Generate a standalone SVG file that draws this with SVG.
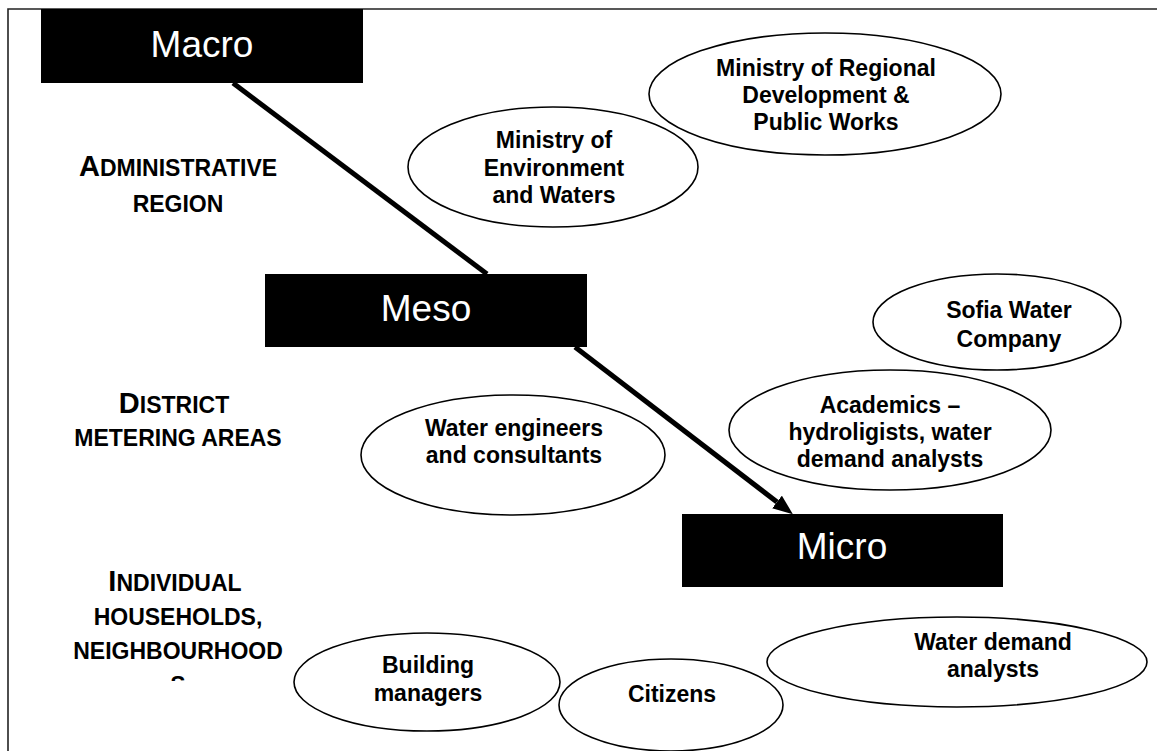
<svg xmlns="http://www.w3.org/2000/svg" width="1157" height="751" viewBox="0 0 1157 751">
<defs>
<style>
.frame{fill:none;stroke:#222;stroke-width:1.6}
.box{fill:#000}
.boxt{font-family:"Liberation Sans",Arial,sans-serif;font-size:37px;fill:#fff;text-anchor:middle}
.ell{fill:#fff;stroke:#000;stroke-width:1.6}
.et{font-family:"Liberation Sans",Arial,sans-serif;font-weight:bold;font-size:23px;fill:#000;text-anchor:middle}
.lab{font-family:"Liberation Sans",Arial,sans-serif;font-weight:bold;font-size:23px;fill:#000;text-anchor:middle}
.big{font-size:29px}
.conn{stroke:#000;stroke-width:5;fill:none}
</style>
<marker id="arrow" markerUnits="userSpaceOnUse" markerWidth="22" markerHeight="18" refX="0" refY="8" orient="auto">
<path d="M0,0 L20,8 L0,16 z" fill="#000"/>
</marker>
<clipPath id="labclip"><rect x="0" y="560" width="320" height="121"/></clipPath>
</defs>
<rect width="1157" height="751" fill="#fff"/>
<path class="frame" d="M8,751 L8,9 L1157,9"/>

<g id="connectors">
<line class="conn" x1="233" y1="83" x2="487" y2="274"/>
<line class="conn" x1="575" y1="347" x2="777" y2="502" marker-end="url(#arrow)"/>
</g>

<g id="macro">
<rect class="box" x="41" y="9" width="322" height="74"/>
<text class="boxt" x="202" y="57">Macro</text>
</g>
<g id="meso">
<rect class="box" x="265" y="274" width="322" height="73"/>
<text class="boxt" x="426" y="321">Meso</text>
</g>
<g id="micro">
<rect class="box" x="682" y="514" width="321" height="73"/>
<text class="boxt" x="842" y="559">Micro</text>
</g>

<g id="label-admin">
<text class="lab" x="178" y="176"><tspan class="big">A</tspan>DMINISTRATIVE</text>
<text class="lab" x="178" y="212">REGION</text>
</g>
<g id="label-district">
<text class="lab" x="174" y="413"><tspan class="big">D</tspan>ISTRICT</text>
<text class="lab" x="178" y="446">METERING AREAS</text>
</g>
<g id="label-individual" clip-path="url(#labclip)">
<text class="lab" x="175" y="591"><tspan class="big">I</tspan>NDIVIDUAL</text>
<text class="lab" x="178" y="625">HOUSEHOLDS,</text>
<text class="lab" x="178" y="659">NEIGHBOURHOOD</text>
<text class="lab" x="178" y="693">S</text>
</g>

<g id="mrdpw">
<ellipse class="ell" cx="825" cy="94" rx="176" ry="61"/>
<text class="et" x="826" y="76">Ministry of Regional</text>
<text class="et" x="826" y="103">Development &amp;</text>
<text class="et" x="826" y="130">Public Works</text>
</g>
<g id="moew">
<ellipse class="ell" cx="553" cy="167" rx="145" ry="60"/>
<text class="et" x="554" y="148">Ministry of</text>
<text class="et" x="554" y="176">Environment</text>
<text class="et" x="554" y="203">and Waters</text>
</g>
<g id="sofia">
<ellipse class="ell" cx="997" cy="322" rx="124" ry="48"/>
<text class="et" x="1009" y="318">Sofia Water</text>
<text class="et" x="1009" y="347">Company</text>
</g>
<g id="academics">
<ellipse class="ell" cx="890" cy="430" rx="161" ry="60"/>
<text class="et" x="890" y="413">Academics –</text>
<text class="et" x="890" y="440">hydroligists, water</text>
<text class="et" x="890" y="467">demand analysts</text>
</g>
<g id="engineers">
<ellipse class="ell" cx="513" cy="455" rx="152" ry="60"/>
<text class="et" x="514" y="436">Water engineers</text>
<text class="et" x="514" y="463">and consultants</text>
</g>
<g id="building">
<ellipse class="ell" cx="427" cy="682" rx="133" ry="49"/>
<text class="et" x="428" y="673">Building</text>
<text class="et" x="428" y="701">managers</text>
</g>
<g id="citizens">
<ellipse class="ell" cx="671" cy="705" rx="112" ry="46"/>
<text class="et" x="672" y="702">Citizens</text>
</g>
<g id="wda">
<ellipse class="ell" cx="957" cy="662" rx="190" ry="45"/>
<text class="et" x="993" y="650">Water demand</text>
<text class="et" x="993" y="677">analysts</text>
</g>
</svg>
